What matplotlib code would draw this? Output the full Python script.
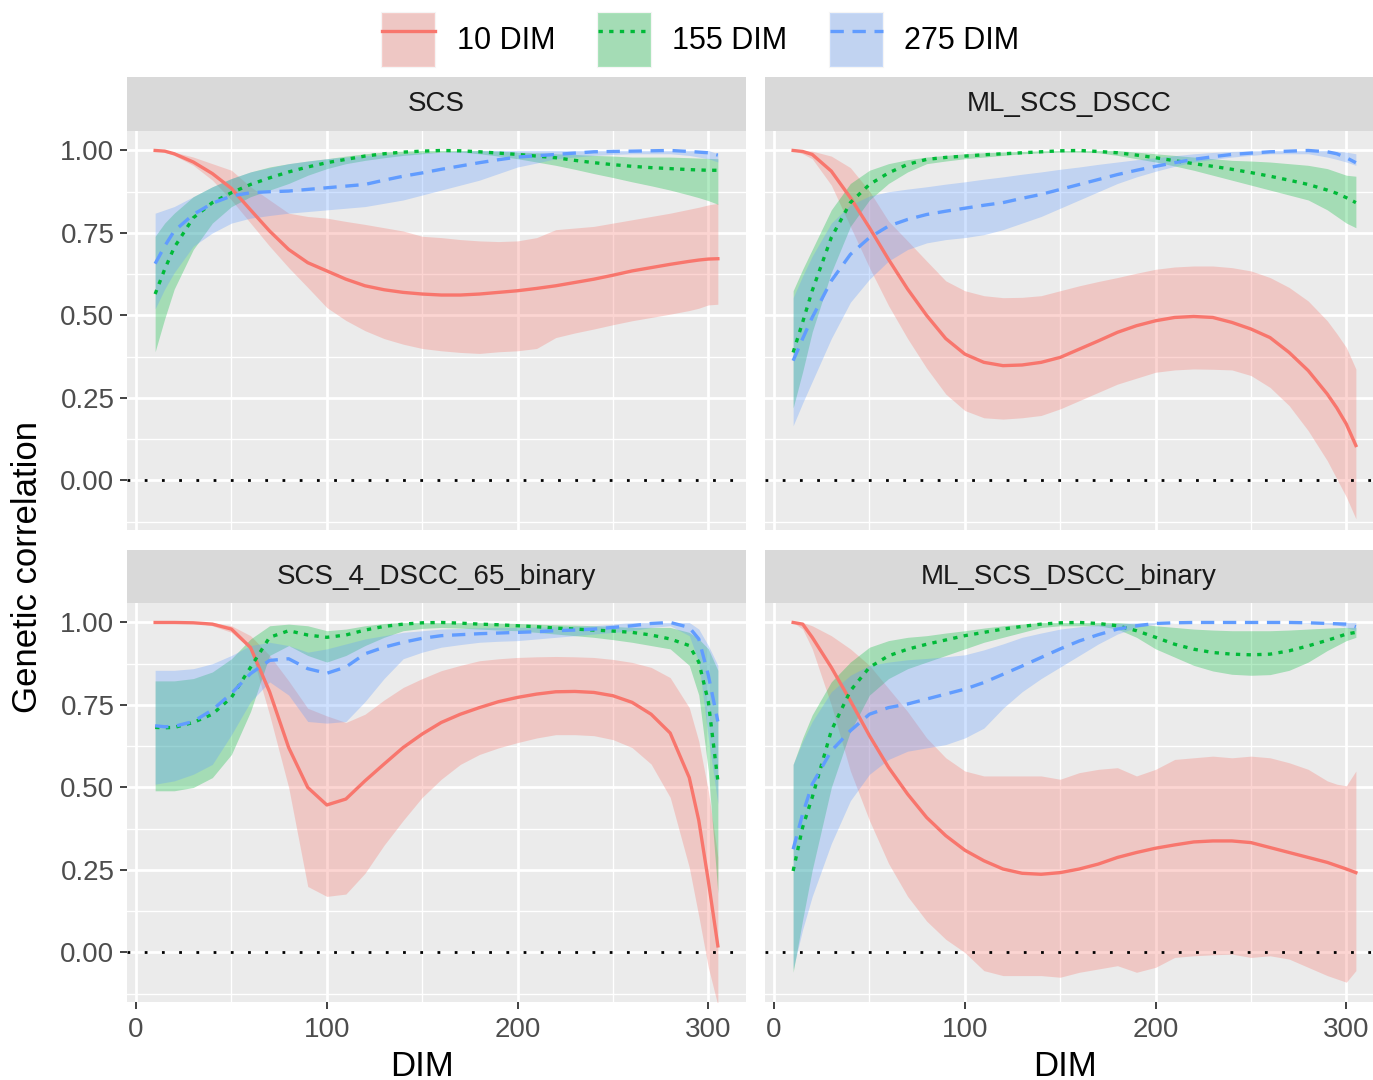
import matplotlib
matplotlib.use('Agg')
import matplotlib.pyplot as plt
from matplotlib.legend_handler import HandlerTuple
from matplotlib.lines import Line2D
from matplotlib.patches import Patch
from matplotlib.ticker import FixedLocator, FormatStrFormatter

plt.rcParams['font.family'] = ['Liberation Sans', 'DejaVu Sans']

# DIM grid used for the fitted curves
dim = [10, 15, 20, 30, 40, 50, 60, 70, 80, 90, 100, 110, 120, 130, 140, 150,
       160, 170, 180, 190, 200, 210, 220, 230, 240, 250, 260, 270, 280, 290,
       295, 300, 305]

groups = ["10 DIM", "155 DIM", "275 DIM"]
panels = ["SCS", "ML_SCS_DSCC", "SCS_4_DSCC_65_binary", "ML_SCS_DSCC_binary"]

# ---- SCS ----
scs_10_fit = [1.0, 0.998, 0.99, 0.965, 0.93, 0.885, 0.82, 0.756, 0.70, 0.66, 0.635, 0.61, 0.59, 0.578, 0.57, 0.565,
              0.562, 0.562, 0.565, 0.57, 0.575, 0.582, 0.59, 0.60, 0.61, 0.622, 0.635, 0.645, 0.655, 0.664,
              0.668, 0.671, 0.672]
scs_10_hi = [1.0, 1.0, 0.995, 0.98, 0.96, 0.94, 0.89, 0.85, 0.81, 0.80, 0.795, 0.785, 0.776, 0.766, 0.756, 0.74,
             0.736, 0.73, 0.726, 0.724, 0.726, 0.736, 0.76, 0.765, 0.77, 0.78, 0.79, 0.80, 0.81, 0.822,
             0.828, 0.835, 0.84]
scs_10_lo = [1.0, 0.995, 0.985, 0.955, 0.91, 0.85, 0.78, 0.71, 0.645, 0.585, 0.524, 0.485, 0.454, 0.43, 0.413, 0.40,
             0.393, 0.388, 0.385, 0.39, 0.393, 0.40, 0.433, 0.447, 0.459, 0.472, 0.484, 0.494, 0.504, 0.515,
             0.522, 0.532, 0.534]
scs_155_fit = [0.565, 0.64, 0.706, 0.796, 0.842, 0.872, 0.897, 0.917, 0.935, 0.95, 0.963, 0.973, 0.983, 0.99, 0.995, 0.998,
               1.0, 0.999, 0.996, 0.992, 0.988, 0.983, 0.978, 0.97, 0.963, 0.957, 0.952, 0.948, 0.945, 0.942,
               0.941, 0.94, 0.94]
scs_155_hi = [0.74, 0.78, 0.81, 0.86, 0.89, 0.915, 0.935, 0.95, 0.96, 0.968, 0.975, 0.983, 0.99, 0.995, 0.998, 1.0,
              1.0, 1.0, 1.0, 0.998, 0.995, 0.993, 0.99, 0.988, 0.985, 0.983, 0.98, 0.98, 0.98, 0.978,
              0.977, 0.976, 0.975]
scs_155_lo = [0.39, 0.49, 0.58, 0.70, 0.78, 0.83, 0.86, 0.88, 0.90, 0.925, 0.945, 0.96, 0.97, 0.978, 0.985, 0.99,
              0.995, 0.995, 0.99, 0.983, 0.975, 0.965, 0.955, 0.943, 0.93, 0.918, 0.905, 0.893, 0.88, 0.865,
              0.857, 0.848, 0.837]
scs_275_fit = [0.657, 0.71, 0.756, 0.806, 0.84, 0.862, 0.872, 0.875, 0.877, 0.882, 0.887, 0.892, 0.897, 0.91, 0.922, 0.932,
               0.943, 0.953, 0.963, 0.972, 0.98, 0.984, 0.988, 0.992, 0.996, 0.997, 0.998, 0.999, 1.0, 0.997,
               0.995, 0.993, 0.986]
scs_275_hi = [0.81, 0.82, 0.83, 0.86, 0.89, 0.915, 0.935, 0.948, 0.96, 0.968, 0.975, 0.98, 0.985, 0.988, 0.99, 0.993,
              0.995, 0.998, 1.0, 1.0, 1.0, 1.0, 1.0, 1.0, 1.0, 1.0, 1.0, 1.0, 1.0, 1.0,
              1.0, 1.0, 0.99]
scs_275_lo = [0.52, 0.58, 0.63, 0.71, 0.75, 0.78, 0.795, 0.803, 0.81, 0.815, 0.82, 0.825, 0.83, 0.84, 0.85, 0.865,
              0.88, 0.895, 0.91, 0.93, 0.95, 0.962, 0.975, 0.98, 0.985, 0.988, 0.99, 0.99, 0.99, 0.985,
              0.98, 0.975, 0.965]

# ---- ML_SCS_DSCC ----
ml_10_fit = [1.0, 0.997, 0.988, 0.9375, 0.857, 0.766, 0.67, 0.58, 0.50, 0.43, 0.383, 0.358, 0.348, 0.35, 0.358, 0.373,
             0.398, 0.423, 0.449, 0.469, 0.484, 0.494, 0.497, 0.494, 0.479, 0.459, 0.433, 0.388, 0.333, 0.262,
             0.22, 0.171, 0.106]
ml_10_hi = [1.0, 1.0, 0.998, 0.983, 0.948, 0.877, 0.786, 0.726, 0.665, 0.605, 0.575, 0.56, 0.554, 0.555, 0.56, 0.575,
            0.59, 0.603, 0.615, 0.628, 0.64, 0.647, 0.65, 0.65, 0.645, 0.635, 0.615, 0.585, 0.544, 0.484,
            0.445, 0.403, 0.338]
ml_10_lo = [1.0, 0.99, 0.975, 0.895, 0.77, 0.645, 0.53, 0.43, 0.34, 0.262, 0.212, 0.19, 0.186, 0.19, 0.197, 0.217,
            0.242, 0.267, 0.292, 0.31, 0.328, 0.335, 0.338, 0.337, 0.335, 0.318, 0.282, 0.227, 0.151, 0.06,
            0.005, -0.05, -0.116]
ml_155_fit = [0.388, 0.48, 0.575, 0.736, 0.842, 0.897, 0.932, 0.958, 0.973, 0.979, 0.983, 0.987, 0.99, 0.993, 0.996, 0.999,
              1.0, 0.997, 0.993, 0.986, 0.978, 0.969, 0.96, 0.952, 0.943, 0.933, 0.922, 0.91, 0.897, 0.88,
              0.87, 0.857, 0.842]
ml_155_hi = [0.575, 0.64, 0.70, 0.82, 0.90, 0.94, 0.96, 0.972, 0.98, 0.985, 0.99, 0.993, 0.995, 0.997, 0.999, 1.0,
             1.0, 1.0, 1.0, 0.995, 0.99, 0.985, 0.98, 0.975, 0.97, 0.968, 0.965, 0.96, 0.955, 0.945,
             0.935, 0.925, 0.922]
ml_155_lo = [0.22, 0.33, 0.45, 0.63, 0.77, 0.85, 0.90, 0.935, 0.96, 0.968, 0.975, 0.98, 0.985, 0.99, 0.993, 0.995,
             0.995, 0.993, 0.985, 0.975, 0.965, 0.953, 0.94, 0.925, 0.91, 0.895, 0.88, 0.865, 0.85, 0.82,
             0.80, 0.78, 0.766]
ml_275_fit = [0.363, 0.43, 0.494, 0.605, 0.685, 0.736, 0.771, 0.791, 0.806, 0.816, 0.825, 0.834, 0.842, 0.855, 0.867, 0.882,
              0.897, 0.912, 0.927, 0.94, 0.952, 0.963, 0.973, 0.981, 0.988, 0.992, 0.996, 0.998, 1.0, 0.996,
              0.99, 0.978, 0.963]
ml_275_hi = [0.554, 0.62, 0.68, 0.78, 0.835, 0.862, 0.875, 0.883, 0.89, 0.898, 0.905, 0.913, 0.92, 0.928, 0.935, 0.943,
             0.95, 0.958, 0.965, 0.972, 0.978, 0.984, 0.99, 0.994, 0.997, 0.999, 1.0, 1.0, 1.0, 1.0,
             0.998, 0.995, 0.99]
ml_275_lo = [0.166, 0.235, 0.30, 0.43, 0.54, 0.61, 0.665, 0.70, 0.72, 0.73, 0.736, 0.745, 0.76, 0.78, 0.80, 0.825,
             0.85, 0.875, 0.90, 0.92, 0.937, 0.952, 0.965, 0.973, 0.98, 0.985, 0.99, 0.99, 0.99, 0.98,
             0.973, 0.965, 0.955]

# ---- SCS_4_DSCC_65_binary ----
bin_10_fit = [1.0, 1.0, 1.0, 0.999, 0.995, 0.98, 0.924, 0.79, 0.621, 0.50, 0.447, 0.465, 0.52, 0.571, 0.621, 0.662,
              0.697, 0.722, 0.742, 0.76, 0.773, 0.783, 0.79, 0.791, 0.788, 0.778, 0.758, 0.722, 0.665, 0.53,
              0.40, 0.217, 0.02]
bin_10_hi = [1.0, 1.0, 1.0, 1.0, 1.0, 0.99, 0.96, 0.90, 0.823, 0.74, 0.717, 0.697, 0.722, 0.765, 0.803, 0.83,
             0.854, 0.87, 0.884, 0.89, 0.894, 0.896, 0.897, 0.896, 0.894, 0.888, 0.879, 0.864, 0.833, 0.742,
             0.64, 0.49, 0.288]
bin_10_lo = [1.0, 1.0, 1.0, 1.0, 0.99, 0.97, 0.92, 0.72, 0.50, 0.20, 0.17, 0.177, 0.24, 0.325, 0.40, 0.47,
             0.525, 0.57, 0.60, 0.62, 0.636, 0.65, 0.66, 0.66, 0.657, 0.645, 0.621, 0.571, 0.47, 0.258,
             0.11, -0.045, -0.16]
bin_155_fit = [0.682, 0.681, 0.682, 0.697, 0.722, 0.773, 0.864, 0.955, 0.975, 0.962, 0.955, 0.962, 0.977, 0.988, 0.995, 0.999,
               1.0, 0.998, 0.995, 0.993, 0.99, 0.987, 0.983, 0.98, 0.977, 0.974, 0.97, 0.962, 0.95, 0.93,
               0.88, 0.76, 0.52]
bin_155_hi = [0.823, 0.823, 0.823, 0.83, 0.85, 0.89, 0.95, 0.99, 0.995, 0.99, 0.975, 0.98, 0.99, 0.997, 1.0, 1.0,
              1.0, 1.0, 1.0, 0.998, 0.997, 0.995, 0.993, 0.992, 0.99, 0.988, 0.985, 0.985, 0.985, 0.97,
              0.95, 0.92, 0.855]
bin_155_lo = [0.49, 0.49, 0.49, 0.50, 0.53, 0.60, 0.73, 0.90, 0.93, 0.90, 0.88, 0.90, 0.93, 0.955, 0.975, 0.982,
              0.985, 0.983, 0.98, 0.977, 0.975, 0.97, 0.965, 0.96, 0.955, 0.948, 0.94, 0.93, 0.92, 0.87,
              0.78, 0.55, 0.18]
bin_275_fit = [0.687, 0.684, 0.685, 0.70, 0.735, 0.785, 0.845, 0.885, 0.89, 0.86, 0.846, 0.865, 0.905, 0.925, 0.94, 0.952,
               0.96, 0.963, 0.966, 0.968, 0.97, 0.972, 0.975, 0.977, 0.98, 0.985, 0.99, 0.997, 1.0, 0.985,
               0.95, 0.84, 0.70]
bin_275_hi = [0.855, 0.855, 0.855, 0.86, 0.875, 0.90, 0.93, 0.94, 0.93, 0.91, 0.92, 0.935, 0.95, 0.96, 0.97, 0.975,
              0.98, 0.982, 0.984, 0.985, 0.985, 0.986, 0.987, 0.988, 0.99, 0.995, 1.0, 1.0, 1.0, 1.0,
              0.98, 0.93, 0.87]
bin_275_lo = [0.51, 0.515, 0.52, 0.54, 0.57, 0.66, 0.76, 0.82, 0.78, 0.70, 0.695, 0.70, 0.76, 0.83, 0.89, 0.91,
              0.925, 0.933, 0.94, 0.943, 0.945, 0.95, 0.955, 0.96, 0.965, 0.97, 0.975, 0.985, 0.99, 0.96,
              0.88, 0.65, 0.45]

# ---- ML_SCS_DSCC_binary ----
mlb_10_fit = [1.0, 0.995, 0.955, 0.864, 0.763, 0.657, 0.561, 0.48, 0.409, 0.354, 0.31, 0.278, 0.253, 0.24, 0.237, 0.242,
              0.253, 0.268, 0.288, 0.303, 0.316, 0.326, 0.335, 0.338, 0.338, 0.333, 0.318, 0.303, 0.288, 0.273,
              0.263, 0.253, 0.242]
mlb_10_hi = [1.0, 1.0, 0.99, 0.96, 0.92, 0.87, 0.80, 0.73, 0.65, 0.59, 0.55, 0.535, 0.535, 0.535, 0.535, 0.525,
             0.545, 0.555, 0.56, 0.535, 0.555, 0.585, 0.59, 0.595, 0.59, 0.595, 0.59, 0.575, 0.555, 0.52,
             0.51, 0.505, 0.55]
mlb_10_lo = [1.0, 0.98, 0.92, 0.75, 0.55, 0.40, 0.27, 0.17, 0.095, 0.04, 0.0, -0.055, -0.07, -0.07, -0.07, -0.075,
             -0.06, -0.05, -0.04, -0.06, -0.045, -0.015, -0.01, -0.007, -0.005, -0.015, -0.01, -0.02, -0.045, -0.07,
             -0.08, -0.09, -0.055]
mlb_155_fit = [0.247, 0.38, 0.47, 0.672, 0.793, 0.864, 0.899, 0.919, 0.934, 0.947, 0.96, 0.97, 0.98, 0.988, 0.995, 0.999,
               1.0, 0.997, 0.99, 0.975, 0.955, 0.934, 0.919, 0.909, 0.904, 0.902, 0.904, 0.914, 0.929, 0.946,
               0.955, 0.965, 0.97]
mlb_155_hi = [0.57, 0.65, 0.72, 0.82, 0.88, 0.925, 0.945, 0.955, 0.96, 0.968, 0.975, 0.983, 0.99, 0.995, 1.0, 1.0,
              1.0, 1.0, 1.0, 0.995, 0.99, 0.985, 0.98, 0.977, 0.975, 0.975, 0.975, 0.977, 0.98, 0.983,
              0.984, 0.985, 0.985]
mlb_155_lo = [-0.06, 0.10, 0.25, 0.50, 0.67, 0.78, 0.83, 0.86, 0.88, 0.90, 0.92, 0.94, 0.955, 0.97, 0.985, 0.99,
              0.99, 0.99, 0.98, 0.955, 0.92, 0.895, 0.87, 0.853, 0.843, 0.84, 0.842, 0.855, 0.88, 0.915,
              0.93, 0.945, 0.955]
mlb_275_fit = [0.313, 0.42, 0.51, 0.611, 0.672, 0.722, 0.742, 0.753, 0.768, 0.783, 0.798, 0.818, 0.843, 0.868, 0.894, 0.92,
               0.944, 0.963, 0.98, 0.99, 0.997, 0.999, 1.0, 1.0, 1.0, 1.0, 1.0, 1.0, 0.999, 0.997,
               0.996, 0.995, 0.987]
mlb_275_hi = [0.57, 0.64, 0.70, 0.79, 0.84, 0.87, 0.88, 0.887, 0.891, 0.896, 0.902, 0.917, 0.935, 0.955, 0.968, 0.98,
              0.987, 0.993, 0.997, 0.999, 1.0, 1.0, 1.0, 1.0, 1.0, 1.0, 1.0, 1.0, 1.0, 1.0,
              1.0, 1.0, 1.0]
mlb_275_lo = [-0.05, 0.07, 0.17, 0.33, 0.46, 0.54, 0.585, 0.61, 0.62, 0.63, 0.65, 0.68, 0.74, 0.79, 0.83, 0.865,
              0.90, 0.935, 0.965, 0.985, 0.995, 1.0, 1.0, 1.0, 1.0, 1.0, 1.0, 1.0, 0.998, 0.995,
              0.993, 0.985, 0.975]

colors = ["#F8766D", "#00BA38", "#619CFF"]
styles = ["-", (0, (1.3, 1.9)), (0, (4, 2.6))]

W, H = 1373, 1080
fig = plt.figure(figsize=(W / 100, H / 100), dpi=100)


def px_rect(x0, y0, x1, y1):
    return [x0 / W, 1 - y1 / H, (x1 - x0) / W, (y1 - y0) / H]


def draw_panel(rect, strip_rect, title, series, xmax, show_x, show_y):
    strip = fig.add_axes(px_rect(*strip_rect))
    strip.set_facecolor("#D9D9D9")
    strip.set_xticks([])
    strip.set_yticks([])
    for s in strip.spines.values():
        s.set_visible(False)
    strip.text(0.5, 0.5, title, ha="center", va="center", fontsize=20,
               color="#1A1A1A", transform=strip.transAxes)

    ax = fig.add_axes(px_rect(*rect))
    ax.set_facecolor("#EBEBEB")
    for s in ax.spines.values():
        s.set_visible(False)
    ax.set_xlim(-4.75, xmax)
    ax.set_ylim(-0.15, 1.059)
    ax.xaxis.set_major_locator(FixedLocator([0, 100, 200, 300]))
    ax.xaxis.set_minor_locator(FixedLocator([50, 150, 250]))
    ax.yaxis.set_major_locator(FixedLocator([0, 0.25, 0.5, 0.75, 1.0]))
    ax.yaxis.set_minor_locator(FixedLocator([-0.125, 0.125, 0.375, 0.625, 0.875]))
    ax.yaxis.set_major_formatter(FormatStrFormatter("%.2f"))
    ax.grid(which="major", color="white", lw=2.0)
    ax.grid(which="minor", color="white", lw=1.0)
    ax.set_axisbelow(True)
    ax.tick_params(which="minor", length=0)
    ax.tick_params(which="major", length=5, width=1.3, color="#333333",
                   labelsize=20, labelcolor="#4D4D4D")
    ax.tick_params(axis="x", pad=6)
    ax.tick_params(axis="y", pad=4)
    if not show_x:
        ax.tick_params(axis="x", length=0, labelbottom=False)
    if not show_y:
        ax.tick_params(axis="y", length=0, labelleft=False)

    for (fit, lo, hi), c in zip(series, colors):
        ax.fill_between(dim, lo, hi, color=c, alpha=0.3, lw=0)
    ax.axhline(0, color="black", lw=2.0, ls=(0, (1, 5.2)), zorder=3)
    for (fit, lo, hi), c, ls in zip(series, colors, styles):
        ax.plot(dim, fit, color=c, ls=ls, lw=2.4, dash_capstyle="butt",
                solid_joinstyle="round", zorder=4)
    return ax


xmax_left = 319.75
xmax_right = -4.75 + 608 / 1.9076

draw_panel((127, 131, 746, 530), (127, 77, 746, 131), panels[0],
           [(scs_10_fit, scs_10_lo, scs_10_hi),
            (scs_155_fit, scs_155_lo, scs_155_hi),
            (scs_275_fit, scs_275_lo, scs_275_hi)],
           xmax_left, False, True)
draw_panel((765, 131, 1373, 530), (765, 77, 1373, 131), panels[1],
           [(ml_10_fit, ml_10_lo, ml_10_hi),
            (ml_155_fit, ml_155_lo, ml_155_hi),
            (ml_275_fit, ml_275_lo, ml_275_hi)],
           xmax_right, False, False)
draw_panel((127, 603, 746, 1002), (127, 550, 746, 603), panels[2],
           [(bin_10_fit, bin_10_lo, bin_10_hi),
            (bin_155_fit, bin_155_lo, bin_155_hi),
            (bin_275_fit, bin_275_lo, bin_275_hi)],
           xmax_left, True, True)
draw_panel((765, 603, 1373, 1002), (765, 550, 1373, 603), panels[3],
           [(mlb_10_fit, mlb_10_lo, mlb_10_hi),
            (mlb_155_fit, mlb_155_lo, mlb_155_hi),
            (mlb_275_fit, mlb_275_lo, mlb_275_hi)],
           xmax_right, True, False)

fig.text(28 / W, 1 - 567 / H, "Genetic correlation", rotation=90,
         ha="center", va="center", fontsize=25, color="black")
fig.text(422 / W, 1 - 1066 / H, "DIM", ha="center", va="center", fontsize=25)
fig.text(1065 / W, 1 - 1066 / H, "DIM", ha="center", va="center", fontsize=25)

handles = []
for c, ls in zip(colors, styles):
    handles.append((Patch(facecolor="#EBEBEB", edgecolor="#F5F5F5", lw=1.5),
                    Patch(facecolor=c, alpha=0.3, lw=0),
                    Line2D([], [], color=c, ls=ls, lw=2.4, dash_capstyle="butt")))
fig.legend(handles, groups, loc="center", ncol=3, frameon=False,
           bbox_to_anchor=(701 / W, 1 - 40 / H), fontsize=22,
           handlelength=1.73, handleheight=2.3, handletextpad=0.7,
           columnspacing=1.4,
           handler_map={tuple: HandlerTuple(ndivide=1, pad=0)})

fig.savefig("out.png", dpi=100)
